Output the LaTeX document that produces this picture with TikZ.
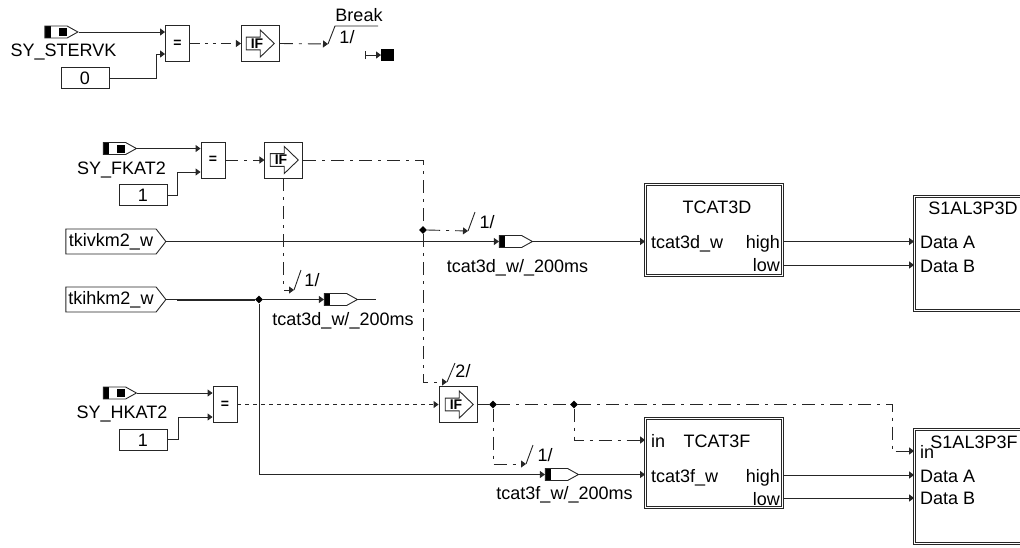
\documentclass[tikz,border=0pt]{standalone}
\usepackage{fontspec}
\setmainfont{Liberation Sans}
\usetikzlibrary{shapes.geometric, shapes.symbols, shapes.arrows, arrows.meta, positioning}

\begin{document}
\begin{tikzpicture}[
        x=1pt, y=-1pt,
        font=\fontsize{18}{20}\selectfont,
        % This defines the style of our texts
        lbl/.style={inner sep=0pt, text height=13pt, text depth=0pt},
        % This defines the style of our boxes
        eqbox/.style={rectangle, draw=black!85, line width=0.9pt, fill=white, minimum width=24pt, minimum height=36pt, inner sep=0pt, font=\fontsize{14}{14}\selectfont\bfseries},
        ifbox/.style={rectangle, draw=black!85, line width=0.9pt, fill=white, minimum width=38pt, minimum height=36pt, inner sep=0pt},
        ifarrow/.style={single arrow, draw=black!85, line width=0.9pt, minimum width=27pt, minimum height=28pt, single arrow head extend=6pt, single arrow head indent=0pt, single arrow tip angle=88, inner sep=0pt, font=\fontsize{14}{14}\selectfont\bfseries},
        constbox/.style={rectangle, draw=black!85, line width=0.9pt, minimum width=48pt, minimum height=21pt, lbl},
        portbox/.style={signal, signal to=east, signal pointer angle=104, draw=black!85, line width=0.9pt, minimum width=100pt, minimum height=25pt, inner sep=0pt},
        flagthin/.style={signal, signal to=east, signal pointer angle=58, draw=black!85, line width=0.9pt, minimum width=33pt, minimum height=12pt, inner sep=0pt, path picture={
            \fill (path picture bounding box.north west) rectangle ([xshift=6pt]path picture bounding box.south west);}},
        flagsrc/.style={flagthin, path picture={
            \fill (path picture bounding box.north west) rectangle ([xshift=6pt]path picture bounding box.south west);
            \fill ([xshift=14pt,yshift=-2pt]path picture bounding box.north west) rectangle ([xshift=22pt,yshift=2pt]path picture bounding box.south west);}},
        blockbox/.style={rectangle, draw=black!85, line width=1pt, double, double distance=1.2pt, minimum width=136.8pt, inner sep=0pt},
        dot/.style={diamond, fill=black, minimum size=8pt, inner sep=0pt},
        % This defines the style of our arrows
        wire/.style={line width=0.9pt, draw=black!85},
        arrow/.style={wire, -{Triangle[length=5pt,width=7pt]}},
        dashdot/.style={dash pattern=on 13pt off 6pt on 3pt off 6pt},
        dashdotdot/.style={dash pattern=on 10pt off 5pt on 3pt off 5pt on 3pt off 5pt},
        shortdash/.style={dash pattern=on 4pt off 4pt}
    ]

    \clip (0,0) rectangle (1020,547);

    % --- THE TOP ROW ---
    \node (sterflag) [flagsrc] at (56,32) {};
    \node (stername) [lbl, below=4.5pt of sterflag, xshift=7.5pt] {SY\_STERVK};
    \node (sterconst) [constbox] at (85,78) {0};
    \node (stereq) [eqbox] at (177.5,43.5) {=};
    \node (sterif) [ifbox, right=51pt of stereq] {};
    \node (steriftip) [ifarrow] at (257,43.5) {IF};
    \coordinate (brktick) at (328,44);
    \node (brkname) [lbl] at (359,15) {Break};
    \node (brkcount) [lbl] at (347,37) {1/};
    \node (brkstop) [rectangle, fill=black, minimum size=12.5pt, inner sep=0pt] at (387.5,55) {};
    \coordinate (brkbar) at (365,55);

    \draw [arrow] (sterflag.east) -- (sterflag.east -| stereq.west);
    \draw [arrow] (sterconst.east) -- ++(47,0) |- ([yshift=-10.5pt]stereq.west);
    \draw [arrow, dashdotdot] (stereq.east) -- (sterif.west);
    \draw [arrow, dashdot] (sterif.east) -- (brktick);
    \draw [wire] (brktick) -- ++(7,-18) -- ++(43,0);
    \draw [wire, {Bar[width=8pt]}-{Triangle[length=5pt,width=7pt]}] (brkbar) -- (brkstop.west);

    % --- THE SECOND ROW ---
    \node (fkatflag) [flagsrc] at (114.5,148.5) {};
    \node (fkatname) [lbl, below=6pt of fkatflag, xshift=7pt] {SY\_FKAT2};
    \node (fkatconst) [constbox] at (143,195) {1};
    \node (fkateq) [eqbox] at (213,160) {=};
    \node (fkatif) [ifbox, right=39pt of fkateq] {};
    \node (fkatiftip) [ifarrow] at (281,160) {IF};

    \node (kivport) [portbox] at (111,241.5) {tkivkm2\_w};
    \node (kihport) [portbox] at (111,299.5) {tkihkm2\_w};

    \node (frontdot) [dot] at (423,230) {};
    \coordinate (fronttick) at (468,231);
    \node (frontcount) [lbl] at (487,222) {1/};
    \node (frontflag) [flagthin] at (510.5,241.5) {};
    \node (frontname) [lbl, below=11pt of frontflag, xshift=7pt] {tcat3d\_w/\_200ms};

    \node (reardot) [dot] at (259,299.5) {};
    \coordinate (reartick) at (294,290);
    \node (rearcount) [lbl] at (312,280) {1/};
    \node (rearflag) [flagthin] at (335.5,299.5) {};
    \node (rearname) [lbl, below=6pt of rearflag, xshift=7.5pt] {tcat3d\_w/\_200ms};
    \coordinate (rearend) at (376,299.5);

    \node (catdbox) [blockbox, minimum height=90.8pt] at (714,230) {};
    \node (catdname) [lbl] at (717,207) {TCAT3D};
    \node (catdin) [lbl, anchor=west] at (651,242) {tcat3d\_w};
    \node (catdhigh) [lbl, anchor=east] at (780,242) {high};
    \node (catdlow) [lbl, anchor=east] at (780,265) {low};

    \node (alpdbox) [blockbox, minimum height=113.8pt] at (983,253.5) {};
    \node (alpdname) [lbl] at (973,208) {S1AL3P3D};
    \node (alpda) [lbl, anchor=west] at (920,242) {Data A};
    \node (alpdb) [lbl, anchor=west] at (920,266) {Data B};

    \draw [arrow] (fkatflag.east) -- (fkatflag.east -| fkateq.west);
    \draw [arrow] (fkatconst.east) -- ++(10,0) |- ([yshift=-12pt]fkateq.west);
    \draw [arrow, dashdot] (fkateq.east) -- (fkatif.west);
    \draw [wire, dashdot] (fkatif.east) -| (frontdot.north);
    \draw [arrow, dashdot] (frontdot.east) -- (fronttick);
    \draw [wire] (fronttick) -- ++(7,-19);
    \draw [arrow] (kivport.east) -- (frontflag.west);
    \draw [arrow] (frontflag.east) -- (frontflag.east -| catdbox.west);
    \draw [arrow, dashdot] (fkatif.south) |- (reartick);
    \draw [wire] (reartick) -- ++(7,-20);
    \draw [wire] (kihport.east) -- (reardot.west);
    \draw [wire, line width=2pt] ([xshift=11pt]kihport.east) -- (reardot.west);
    \draw [arrow] (reardot.east) -- (rearflag.west);
    \draw [wire] (rearflag.east) -- (rearend);
    \draw [arrow] ([yshift=-11.5pt]catdbox.east) -- ([yshift=12pt]alpdbox.west);
    \draw [arrow] ([yshift=-35pt]catdbox.east) -- ([yshift=-11.5pt]alpdbox.west);

    % --- THE THIRD ROW ---
    \node (hkatflag) [flagsrc] at (114.5,393) {};
    \node (hkatname) [lbl, below=5.5pt of hkatflag, xshift=7.5pt] {SY\_HKAT2};
    \node (hkatconst) [constbox] at (143,439.5) {1};
    \node (hkateq) [eqbox] at (225,404.5) {=};
    \node (hkatif) [ifbox] at (458,404.5) {};
    \node (hkatiftip) [ifarrow] at (456,404.5) {IF};

    \coordinate (stoptick) at (447,382);
    \node (stopcount) [lbl] at (463,371) {2/};
    \node (leftdot) [dot] at (493,404.5) {};
    \node (rightdot) [dot] at (574,404.5) {};
    \coordinate (fartick) at (526,464);
    \node (farcount) [lbl] at (545,455) {1/};
    \node (farflag) [flagthin] at (556.5,474.5) {};
    \node (farname) [lbl, below=5.5pt of farflag, xshift=8pt] {tcat3f\_w/\_200ms};

    \node (catfbox) [blockbox, minimum height=88.8pt] at (714,463) {};
    \node (catfport) [lbl, anchor=west] at (651,441) {in};
    \node (catfname) [lbl] at (717,441) {TCAT3F};
    \node (catfin) [lbl, anchor=west] at (651,476) {tcat3f\_w};
    \node (catfhigh) [lbl, anchor=east] at (780,476) {high};
    \node (catflow) [lbl, anchor=east] at (780,499) {low};

    \node (alpfbox) [blockbox, minimum height=113.8pt] at (983,486.5) {};
    \node (alpfname) [lbl] at (974,442) {S1AL3P3F};
    \node (alpfport) [lbl, anchor=west] at (920,452) {in};
    \node (alpfa) [lbl, anchor=west] at (920,476) {Data A};
    \node (alpfb) [lbl, anchor=west] at (920,498) {Data B};

    \draw [arrow] (hkatflag.east) -- (hkatflag.east -| hkateq.west);
    \draw [arrow] (hkatconst.east) -- ++(11,0) |- ([yshift=-12.5pt]hkateq.west);
    \draw [arrow, shortdash] (hkateq.east) -- (hkatif.west);
    \draw [arrow, dashdot] (frontdot.south) |- (stoptick);
    \draw [wire] (stoptick) -- ++(8,-19);
    \draw [wire] (hkatif.east) -- (leftdot.west);
    \draw [wire, dashdot, line width=1.6pt] (leftdot.east) -- (rightdot.west);
    \draw [arrow, dashdot] (rightdot.east) -- ++(314,0) |- ([yshift=35.5pt]alpfbox.west);
    \draw [arrow, dashdot] (rightdot.south) |- ([yshift=23pt]catfbox.west);
    \draw [arrow, dashdot] (leftdot.south) |- (fartick);
    \draw [wire] (fartick) -- ++(7,-19);
    \draw [arrow] (reardot.south) |- (farflag.west);
    \draw [arrow] (farflag.east) -- (farflag.east -| catfbox.west);
    \draw [arrow] ([yshift=-12pt]catfbox.east) -- ([yshift=11.5pt]alpfbox.west);
    \draw [arrow] ([yshift=-35pt]catfbox.east) -- ([yshift=-11.5pt]alpfbox.west);

\end{tikzpicture}
\end{document}
